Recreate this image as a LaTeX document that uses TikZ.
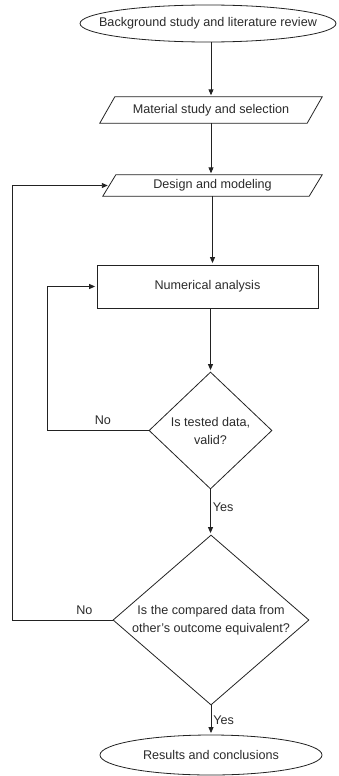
\documentclass[tikz,border=0pt]{standalone}
\usepackage{fontspec}
\setmainfont{Liberation Sans}
\usetikzlibrary{shapes.geometric,arrows.meta}
\definecolor{ln}{HTML}{222222}
\definecolor{tx}{HTML}{2A2A2A}
\begin{document}
\begin{tikzpicture}[x=1pt,y=-1pt,
  every node/.style={font=\fontsize{12.6}{18}\selectfont, text=tx},
  shp/.style={draw=ln, line width=0.8pt, inner sep=0pt},
  ghost/.style={draw=none, inner sep=0pt},
  arr/.style={draw=ln, line width=0.9pt, -{Triangle[length=6pt,width=5pt]}, shorten >=1.5pt},
  lbl/.style={inner sep=2pt},
  nolbl/.style={inner sep=5pt}]
\useasboundingbox (0,0) rectangle (338,776);

% start ellipse
\node[ellipse, shp, minimum width=256, minimum height=37] (e1) at (208,23.5) {};
\node[ghost] (t1) at (e1) {Background study and literature review};

% parallelogram 1
\node[ghost, minimum width=207, minimum height=26] (p1) at (211,110) {Material study and selection};
\draw[shp] ([xshift=7.5pt]p1.north west) -- ([xshift=7.5pt]p1.north east) -- ([xshift=-7.5pt]p1.south east) -- ([xshift=-7.5pt]p1.south west) -- cycle;

% parallelogram 2
\node[ghost, minimum width=206, minimum height=21] (p2) at (212.5,185.5) {Design and modeling};
\draw[shp] ([xshift=6.5pt]p2.north west) -- ([xshift=6.5pt]p2.north east) -- ([xshift=-6.5pt]p2.south east) -- ([xshift=-6.5pt]p2.south west) -- cycle;

% rectangle
\node[rectangle, shp, minimum width=221, minimum height=43] (r) at (207.5,286.5) {Numerical analysis};

% diamond 1
\node[diamond, shp, minimum width=123, minimum height=117] (d1) at (210.5,430.5) {};
\node[ghost, align=center] (t2) at (d1) {Is tested data,\\valid?};

% diamond 2
\node[diamond, shp, minimum width=196, minimum height=170] (d2) at (211,620) {};
\node[ghost, align=center] (t3) at (d2) {Is the compared data from\\other's outcome equivalent?};

% end ellipse
\node[ellipse, shp, minimum width=222, minimum height=40] (e2) at (211,755) {};
\node[ghost] (t4) at (e2) {Results and conclusions};

% feedback coordinates
\coordinate (fb1) at (47,0);
\coordinate (fb2) at (12,0);

% main flow
\draw[arr] (p1.north |- e1.south) -- (p1.north);
\draw[arr] (p1.south) -- (p1.south |- p2.north);
\draw[arr] (p2.south) -- (p2.south |- r.north);
\draw[arr] (d1.north |- r.south) -- (d1.north);
\draw[arr] (d1.south) -- node[right, lbl, pos=0.4] (y1) {Yes} (d1.south |- d2.north);
\draw[arr] (d2.south) -- node[right, lbl, pos=0.5] (y2) {Yes} (d2.south |- e2.north);

% feedback loops
\draw[arr] (d1.west) -- node[above, nolbl, pos=0.45] (n1) {No} (d1.west -| fb1) |- (r.west);
\draw[arr] (d2.west) -- node[above, nolbl, pos=0.28] (n2) {No} (d2.west -| fb2) |- (p2.west);
\end{tikzpicture}
\end{document}
